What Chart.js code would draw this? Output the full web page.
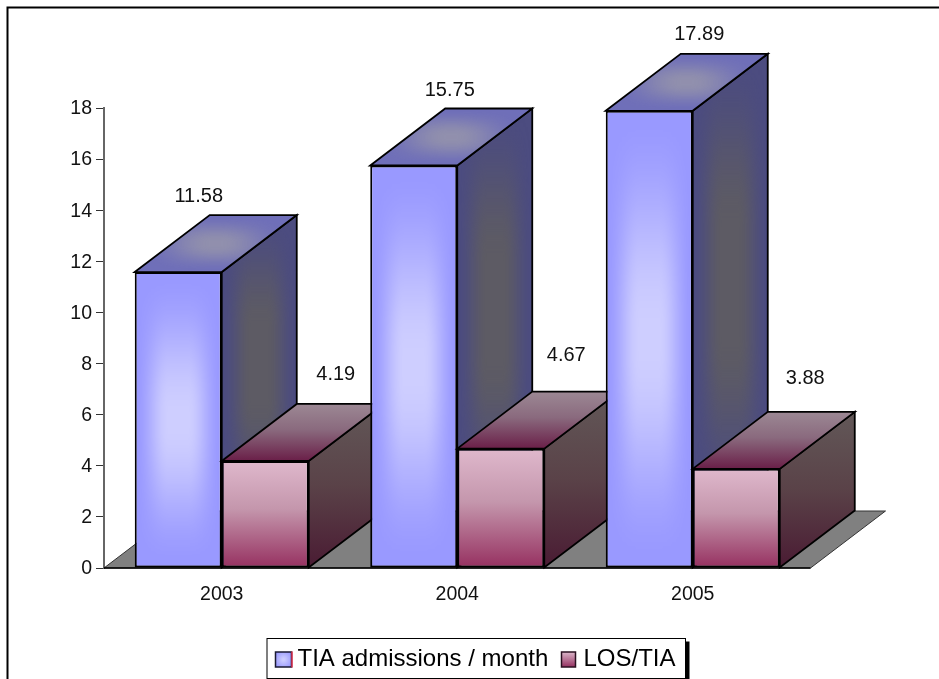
<!DOCTYPE html>
<html>
<head>
<meta charset="utf-8">
<title>TIA admissions and length of stay</title>
<script src="https://cdn.jsdelivr.net/npm/chart.js@4"></script>
<style>
  html, body { margin: 0; padding: 0; background: #fff; overflow: hidden; }
  canvas { display: block; }
</style>
</head>
<body>
<canvas id="chart" width="939" height="679"></canvas>
<script>
const years = ['2003', '2004', '2005'];
const admissions = [11.58, 15.75, 17.89];
const losPerTia = [4.19, 4.67, 3.88];
const seriesNames = ['TIA admissions / month', 'LOS/TIA'];
const yTicks = [0, 2, 4, 6, 8, 10, 12, 14, 16, 18];

// Hand-placed value captions: shift from the top centre of each column.
const captionShiftX = [[20.5, 36, 50], [70.5, 65.5, 69]];
const captionShiftY = [[-76, -75.5, -76], [-86, -93, -90]];

const FONT = '"Liberation Sans", Arial, sans-serif';
const DEPTH_X = 75;
const DEPTH_Y = 57;

// Soft elliptical highlight, stretched over a face when it is painted.
function makeSheen(r, g, b, alpha, edgeX, edgeY) {
  const size = 96;
  const c = document.createElement('canvas');
  c.width = c.height = size;
  const g2 = c.getContext('2d');
  const img = g2.createImageData(size, size);
  const bump = (t, edge) => {
    const v = Math.min(1, Math.max(0, (1 - Math.abs(t)) / edge));
    return v * v * (3 - 2 * v);
  };
  for (let j = 0; j < size; j++) {
    for (let i = 0; i < size; i++) {
      const u = (i + 0.5) / size * 2 - 1;
      const w = (j + 0.5) / size * 2 - 1;
      const k = 4 * (j * size + i);
      img.data[k] = r; img.data[k + 1] = g; img.data[k + 2] = b;
      img.data[k + 3] = 255 * alpha * bump(u, edgeX) * bump(w, edgeY);
    }
  }
  g2.putImageData(img, 0, 0);
  return c;
}
const frontSheen = makeSheen(255, 255, 255, 0.52, 0.78, 0.95);
const sideSheen = makeSheen(94, 92, 98, 0.95, 0.8, 0.75);
const topSheen = makeSheen(160, 158, 168, 0.7, 0.95, 0.95);

function verticalGradient(ctx, y0, y1, stops) {
  const g = ctx.createLinearGradient(0, y0, 0, y1);
  stops.forEach(([p, col]) => g.addColorStop(p, col));
  return g;
}

function facePath(ctx, pts) {
  ctx.beginPath();
  pts.forEach(([x, y], i) => (i ? ctx.lineTo(x, y) : ctx.moveTo(x, y)));
  ctx.closePath();
}

function paintFace(ctx, pts, fill, sheen, box) {
  ctx.save();
  facePath(ctx, pts);
  ctx.fillStyle = fill;
  ctx.fill();
  if (sheen) {
    ctx.clip();
    ctx.drawImage(sheen, box.x, box.y, box.w, box.h);
  }
  ctx.restore();
  facePath(ctx, pts);
  ctx.strokeStyle = '#000';
  ctx.lineWidth = 1.8;
  ctx.lineJoin = 'miter';
  ctx.stroke();
}

function drawColumn(ctx, bar, seriesIndex) {
  const { x, y, base, width } = bar.getProps(['x', 'y', 'base', 'width']);
  const l = x - width / 2, r = x + width / 2;
  const side = [[r, y], [r + DEPTH_X, y - DEPTH_Y], [r + DEPTH_X, base - DEPTH_Y], [r, base]];
  const top = [[l, y], [l + DEPTH_X, y - DEPTH_Y], [r + DEPTH_X, y - DEPTH_Y], [r, y]];

  if (seriesIndex === 0) {
    paintFace(ctx, side, '#4c4c80', sideSheen, { x: r, y: y - DEPTH_Y, w: DEPTH_X, h: base - y });
    paintFace(ctx, top, '#6f6fb9', topSheen, { x: l + 8, y: y - DEPTH_Y, w: width + DEPTH_X - 16, h: DEPTH_Y });
    bar.draw(ctx);
    ctx.save();
    ctx.beginPath();
    ctx.rect(l + 1.5, y + 1.5, width - 3, base - y - 3);
    ctx.clip();
    ctx.drawImage(frontSheen, l, y, width, base - y);
    ctx.restore();
  } else {
    paintFace(ctx, side, verticalGradient(ctx, y - DEPTH_Y, base, [[0, '#625858'], [0.5, '#5a4248'], [1, '#4a1b33']]));
    paintFace(ctx, top, verticalGradient(ctx, y - DEPTH_Y, y, [[0, '#9c8894'], [0.45, '#8a6a7e'], [1, '#6a1f48']]));
    bar.draw(ctx);
  }
}

function drawFloor(ctx, area) {
  const pts = [[area.left, area.bottom], [area.left + DEPTH_X, area.bottom - DEPTH_Y],
    [area.right + DEPTH_X, area.bottom - DEPTH_Y], [area.right, area.bottom]];
  facePath(ctx, pts);
  ctx.fillStyle = '#808080';
  ctx.fill();
  ctx.strokeStyle = '#333';
  ctx.lineWidth = 1;
  ctx.stroke();
}

function drawLegend(ctx, names) {
  const box = { x: 267, y: 638.5, w: 418.5, h: 40 };
  ctx.fillStyle = '#000';
  ctx.fillRect(box.x + 4, box.y + 3, box.w, box.h + 3);
  ctx.fillStyle = '#fff';
  ctx.fillRect(box.x, box.y, box.w, box.h);
  ctx.strokeStyle = '#000';
  ctx.lineWidth = 1;
  ctx.strokeRect(box.x, box.y, box.w, box.h);

  // First swatch: blue with a light core and a red right edge.
  const bx = 275.5, by = 652, bw = 16, bh = 15;
  const core = ctx.createRadialGradient(bx + bw / 2, by + bh / 2, 1, bx + bw / 2, by + bh / 2, bw * 0.6);
  core.addColorStop(0, '#ccccff');
  core.addColorStop(1, '#9999ff');
  ctx.fillStyle = core;
  ctx.fillRect(bx, by, bw, bh);
  ctx.strokeStyle = '#1a1a33';
  ctx.lineWidth = 1.5;
  ctx.strokeRect(bx, by, bw, bh);
  ctx.strokeStyle = '#e03050';
  ctx.beginPath();
  ctx.moveTo(bx + bw + 0.5, by - 0.5);
  ctx.lineTo(bx + bw + 0.5, by + bh + 0.5);
  ctx.stroke();

  // Second swatch: the rose vertical ramp.
  const rx = 561.5;
  ctx.fillStyle = verticalGradient(ctx, by, by + bh, [[0, '#dcb6ca'], [1, '#943060']]);
  ctx.fillRect(rx, by, 14, bh);
  ctx.strokeStyle = '#2a1020';
  ctx.strokeRect(rx, by, 14, bh);

  ctx.fillStyle = '#000';
  ctx.font = '24px ' + FONT;
  ctx.textAlign = 'left';
  ctx.textBaseline = 'middle';
  ctx.fillText(names[0], 297.5, 659.5);
  ctx.fillText(names[1], 583.5, 659.5);
}

const column3d = {
  id: 'column3d',
  beforeDraw(chart) {
    const ctx = chart.ctx;
    ctx.save();
    ctx.strokeStyle = '#000';
    ctx.lineWidth = 2;
    ctx.beginPath();
    ctx.moveTo(7.5, chart.height + 2);
    ctx.lineTo(7.5, 7.5);
    ctx.lineTo(chart.width + 2, 7.5);
    ctx.stroke();
    ctx.restore();
  },
  beforeDatasetsDraw(chart) {
    const ctx = chart.ctx;
    ctx.save();
    drawFloor(ctx, chart.chartArea);
    // Baseline sits on the floor's front edge, under the columns.
    ctx.strokeStyle = '#000';
    ctx.lineWidth = 1.5;
    ctx.beginPath();
    ctx.moveTo(chart.chartArea.left, chart.chartArea.bottom);
    ctx.lineTo(chart.chartArea.right, chart.chartArea.bottom);
    ctx.stroke();
    // Painter's order: each year's pair, back to front.
    years.forEach((_, i) => {
      chart.data.datasets.forEach((_d, s) => drawColumn(ctx, chart.getDatasetMeta(s).data[i], s));
    });
    ctx.restore();
    return false;
  },
  afterDraw(chart) {
    const ctx = chart.ctx;
    ctx.save();
    ctx.fillStyle = '#111';
    ctx.font = '20px ' + FONT;
    ctx.textAlign = 'center';
    ctx.textBaseline = 'middle';
    chart.data.datasets.forEach((ds, s) => {
      chart.getDatasetMeta(s).data.forEach((bar, i) => {
        const { x, y } = bar.getProps(['x', 'y']);
        ctx.fillText(ds.data[i].toFixed(2), x + captionShiftX[s][i], y + captionShiftY[s][i]);
      });
    });
    drawLegend(ctx, chart.data.datasets.map(d => d.label));
    ctx.restore();
  }
};

new Chart(document.getElementById('chart'), {
  type: 'bar',
  plugins: [column3d],
  data: {
    labels: years,
    datasets: [
      {
        label: seriesNames[0],
        data: admissions,
        backgroundColor: '#9999ff',
        borderColor: '#000',
        borderWidth: 2,
        borderSkipped: false
      },
      {
        label: seriesNames[1],
        data: losPerTia,
        backgroundColor(c) {
          const s = c.chart.scales.y;
          const y0 = s && c.raw !== undefined ? s.getPixelForValue(c.raw) : NaN;
          const y1 = s ? s.getPixelForValue(0) : NaN;
          if (!Number.isFinite(y0) || !Number.isFinite(y1)) return '#c896b0';
          return verticalGradient(c.chart.ctx, y0, y1,
            [[0, '#dfb8cc'], [0.45, '#c496ac'], [1, '#963060']]);
        },
        borderColor: '#000',
        borderWidth: 2,
        borderSkipped: false
      }
    ]
  },
  options: {
    responsive: false,
    animation: false,
    events: [],
    layout: { padding: { left: 44, right: 128.5, top: 108, bottom: 71 } },
    datasets: { bar: { categoryPercentage: 0.739, barPercentage: 1 } },
    plugins: { legend: { display: false }, tooltip: { enabled: false } },
    scales: {
      x: {
        grid: { drawOnChartArea: false, drawTicks: false },
        border: { display: false },
        ticks: { padding: 15, color: '#111', font: { family: FONT, size: 19.5 }, maxRotation: 0 },
        afterFit(scale) {
          scale.height = 40;
          scale.paddingLeft = scale.paddingRight = 0;
        }
      },
      y: {
        min: 0,
        max: 18,
        afterBuildTicks(scale) { scale.ticks = yTicks.map(value => ({ value })); },
        grid: { drawOnChartArea: false, drawTicks: true, tickLength: 8, tickColor: '#333', tickWidth: 1 },
        border: { color: '#666', width: 2 },
        ticks: { padding: 4, color: '#111', labelOffset: 1, font: { family: FONT, size: 19.5 } },
        afterFit(scale) {
          scale.width = 60;
          scale.paddingTop = scale.paddingBottom = 0;
        }
      }
    }
  }
});
</script>
</body>
</html>
